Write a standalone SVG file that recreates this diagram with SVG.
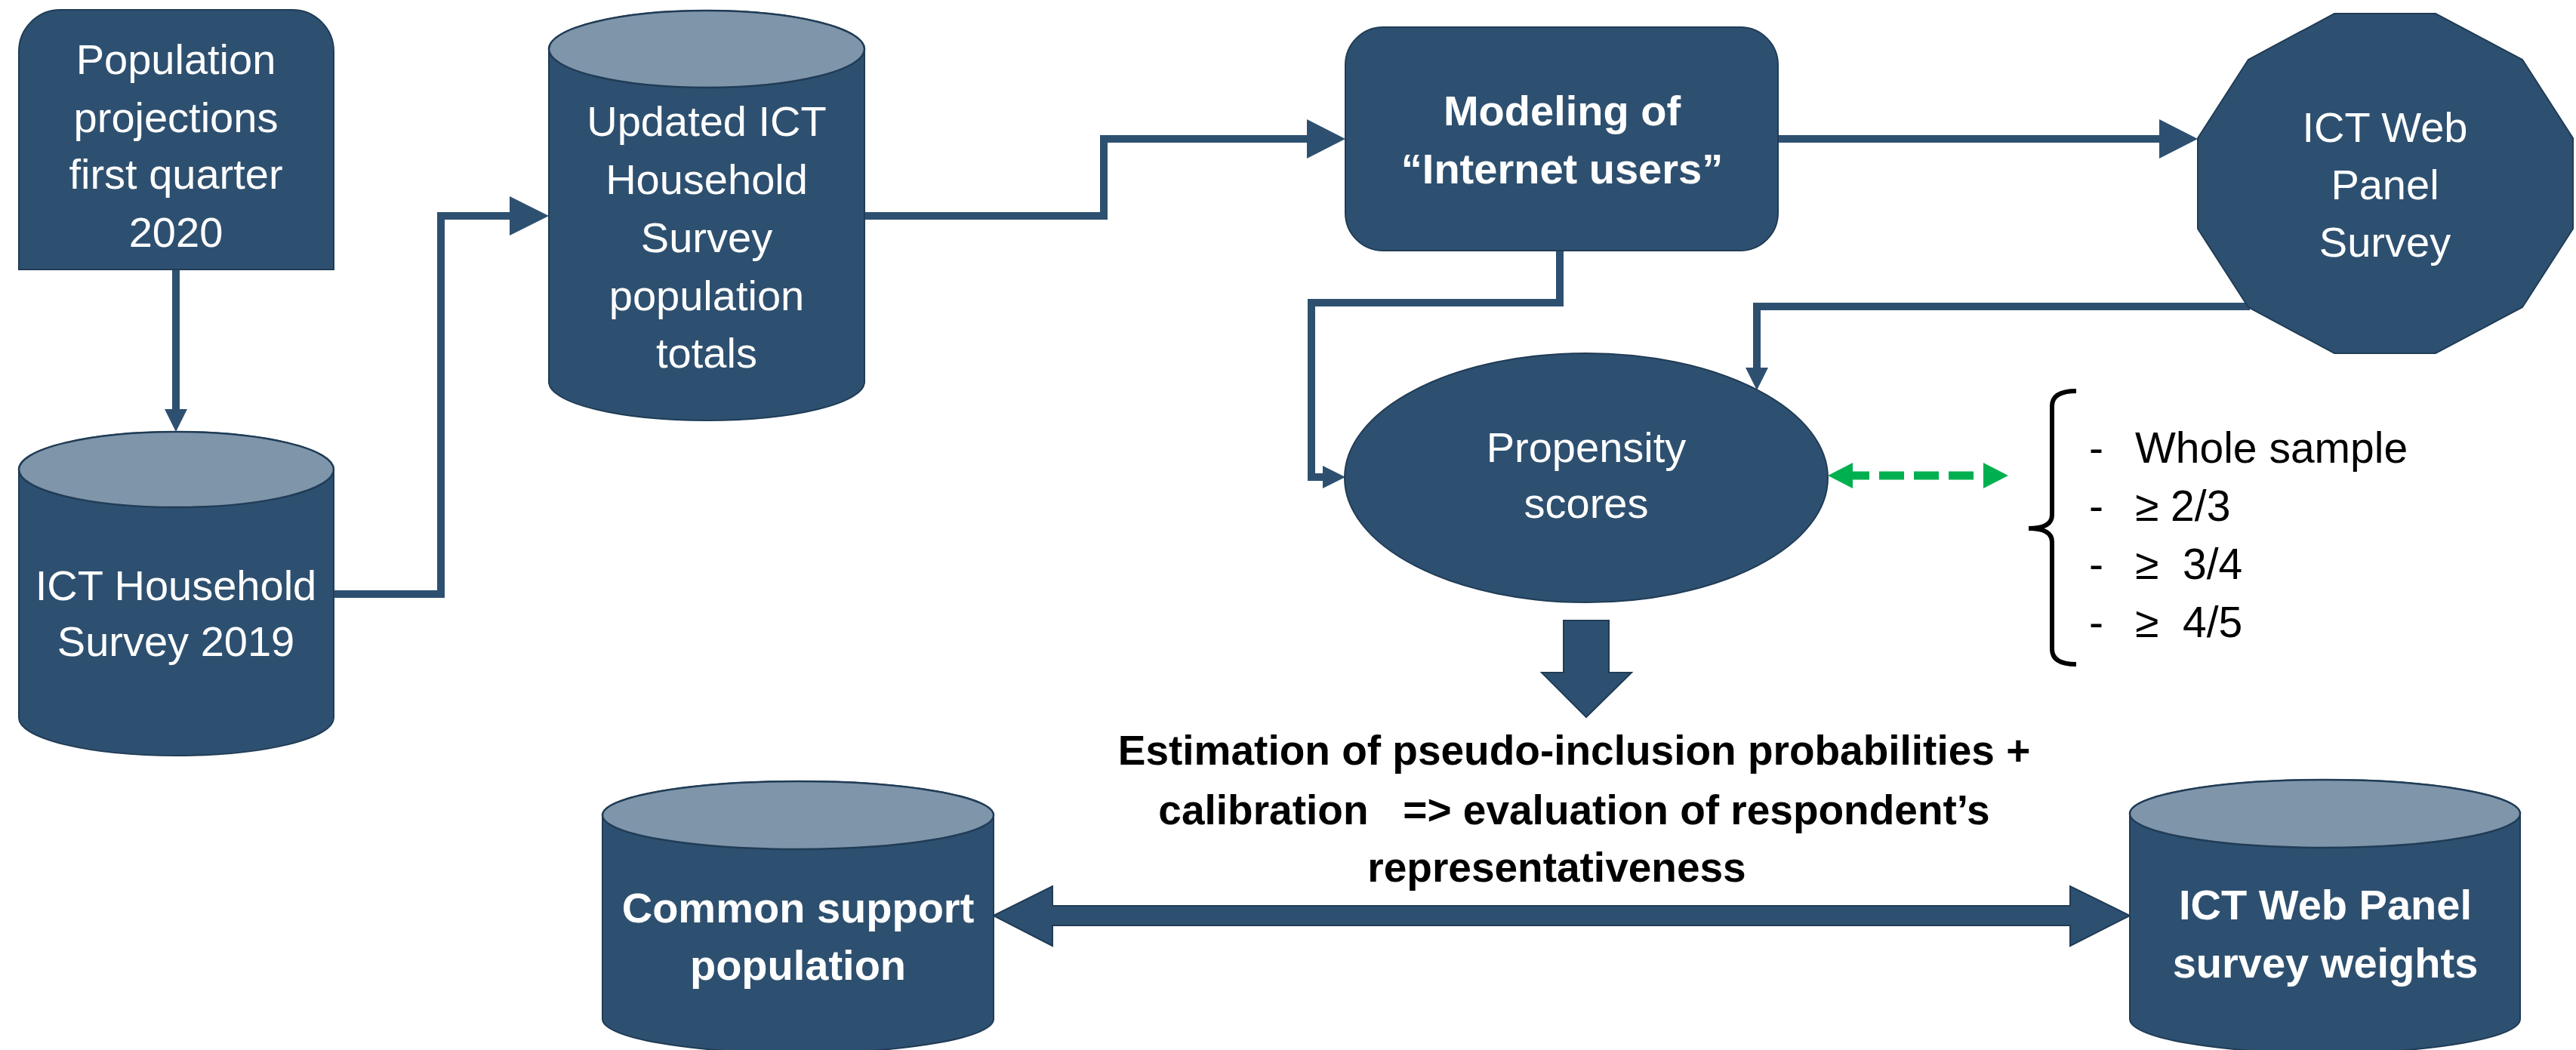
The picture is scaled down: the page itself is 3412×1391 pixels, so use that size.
<svg xmlns="http://www.w3.org/2000/svg" width="3412" height="1391" viewBox="0 0 3412 1391">
<style>
.shape{fill:#2E5070;stroke:#203C56;stroke-width:2}
.top{fill:#7F95AA;stroke:#203C56;stroke-width:2.5}
.t{font-family:"Liberation Sans",Arial,sans-serif;font-size:56px;fill:#FFFFFF;text-anchor:middle}
.tb{font-family:"Liberation Sans",Arial,sans-serif;font-size:56px;font-weight:bold;fill:#FFFFFF;text-anchor:middle}
.cap{font-family:"Liberation Sans",Arial,sans-serif;font-size:55px;font-weight:bold;fill:#000000;text-anchor:middle}
.lst{font-family:"Liberation Sans",Arial,sans-serif;font-size:57px;fill:#000000}
.ln{fill:none;stroke:#2E5070;stroke-width:10}
.hd{fill:#2E5070}
</style>
<rect x="0" y="0" width="3412" height="1391" fill="#FFFFFF"/>

<g id="connectors">
  <line class="ln" x1="233" y1="357" x2="233" y2="544"/>
  <polygon class="hd" points="218,542 248,542 233,572"/>
  <polyline class="ln" points="442,787 584,787 584,286 677,286"/>
  <polygon class="hd" points="675,260 675,312 727,286"/>
  <polyline class="ln" points="1145,286 1462,286 1462,184 1733,184"/>
  <polygon class="hd" points="1731,158 1731,210 1782,184"/>
  <line class="ln" x1="2355" y1="184" x2="2862" y2="184"/>
  <polygon class="hd" points="2860,158 2860,210 2911,184"/>
  <polyline class="ln" points="2066,332 2066,401 1737,401 1737,632 1754,632"/>
  <polygon class="hd" points="1752,617 1752,647 1782,632"/>
  <polyline class="ln" points="2980,406 2327,406 2327,489"/>
  <polygon class="hd" points="2312,487 2342,487 2327,517"/>
  <line x1="2454" y1="630" x2="2627" y2="630" stroke="#00B050" stroke-width="11" stroke-dasharray="33 13" stroke-dashoffset="11"/>
  <polygon fill="#00B050" points="2421,630 2454,613 2454,647"/>
  <polygon fill="#00B050" points="2660,630 2627,613 2627,647"/>
  <polygon class="shape" points="2071,822 2131,822 2131,891 2161,891 2101,950 2042,891 2071,891"/>
  <polygon class="shape" points="1316,1213 1394,1174 1394,1200 2742,1200 2742,1174 2821,1213 2742,1253 2742,1226 1394,1226 1394,1253"/>
</g>

<g id="pop-projections">
  <path class="shape" d="M25,357 L25,68 A55,55 0 0 1 80,13 L387,13 A55,55 0 0 1 442,68 L442,357 Z"/>
  <text class="t" x="233" y="98">Population</text>
  <text class="t" x="233" y="175">projections</text>
  <text class="t" x="233" y="250">first quarter</text>
  <text class="t" x="233" y="327">2020</text>
</g>

<g id="ict-household-2019">
  <path class="shape" d="M25,622 L25,951 A208.5,50 0 0 0 442,951 L442,622 A208.5,50 0 0 0 25,622 Z"/>
  <ellipse class="top" cx="233.5" cy="622" rx="208.5" ry="50"/>
  <text class="t" x="233" y="795">ICT Household</text>
  <text class="t" x="233" y="869">Survey 2019</text>
</g>

<g id="updated-ict">
  <path class="shape" d="M727,65 L727,506 A209,51 0 0 0 1145,506 L1145,65 A209,51 0 0 0 727,65 Z"/>
  <ellipse class="top" cx="936" cy="65" rx="209" ry="51"/>
  <text class="t" x="936" y="180">Updated ICT</text>
  <text class="t" x="936" y="257">Household</text>
  <text class="t" x="936" y="334">Survey</text>
  <text class="t" x="936" y="411">population</text>
  <text class="t" x="936" y="487">totals</text>
</g>

<g id="modeling">
  <rect class="shape" x="1782" y="36" width="573" height="296" rx="50" ry="50"/>
  <text class="tb" x="2069" y="166">Modeling of</text>
  <text class="tb" x="2069" y="243">“Internet users”</text>
</g>

<g id="web-panel-survey">
  <polygon class="shape" points="3092,18 3226,18 3341,79 3408,183 3408,303 3341,407 3226,468 3092,468 2978,407 2911,303 2911,183 2978,79"/>
  <text class="t" x="3159" y="188">ICT Web</text>
  <text class="t" x="3159" y="264">Panel</text>
  <text class="t" x="3159" y="340">Survey</text>
</g>

<g id="propensity">
  <ellipse class="shape" cx="2101" cy="633" rx="320" ry="165"/>
  <text class="t" x="2101" y="612" font-size="57">Propensity</text>
  <text class="t" x="2101" y="686" font-size="57">scores</text>
</g>

<g id="thresholds">
  <path d="M2750,518 Q2718,518 2718,538 L2718,682 Q2718,700 2687,700 Q2718,700 2718,718 L2718,860 Q2718,880 2750,880" fill="none" stroke="#000000" stroke-width="6"/>
  <text class="lst" y="613" xml:space="preserve"><tspan x="2767">-</tspan><tspan x="2828">Whole sample</tspan></text>
  <text class="lst" y="690" xml:space="preserve"><tspan x="2767">-</tspan><tspan x="2828">≥ 2/3</tspan></text>
  <text class="lst" y="767" xml:space="preserve"><tspan x="2767">-</tspan><tspan x="2828">≥  3/4</tspan></text>
  <text class="lst" y="844" xml:space="preserve"><tspan x="2767">-</tspan><tspan x="2828">≥  4/5</tspan></text>
</g>

<g id="estimation-label">
  <text class="cap" x="2085" y="1013">Estimation of pseudo-inclusion probabilities +</text>
  <text class="cap" x="2085" y="1092" xml:space="preserve">calibration   =&gt; evaluation of respondent’s</text>
  <text class="cap" x="2062" y="1168">representativeness</text>
</g>

<g id="common-support">
  <path class="shape" d="M798,1080 L798,1350 A259,45 0 0 0 1316,1350 L1316,1080 A259,45 0 0 0 798,1080 Z"/>
  <ellipse class="top" cx="1057" cy="1080" rx="259" ry="45"/>
  <text class="tb" x="1057" y="1222">Common support</text>
  <text class="tb" x="1057" y="1298">population</text>
</g>

<g id="web-panel-weights">
  <path class="shape" d="M2821,1078 L2821,1350 A258.5,45 0 0 0 3338,1350 L3338,1078 A258.5,45 0 0 0 2821,1078 Z"/>
  <ellipse class="top" cx="3079.5" cy="1078" rx="258.5" ry="45"/>
  <text class="tb" x="3080" y="1218">ICT Web Panel</text>
  <text class="tb" x="3080" y="1295">survey weights</text>
</g>
</svg>
